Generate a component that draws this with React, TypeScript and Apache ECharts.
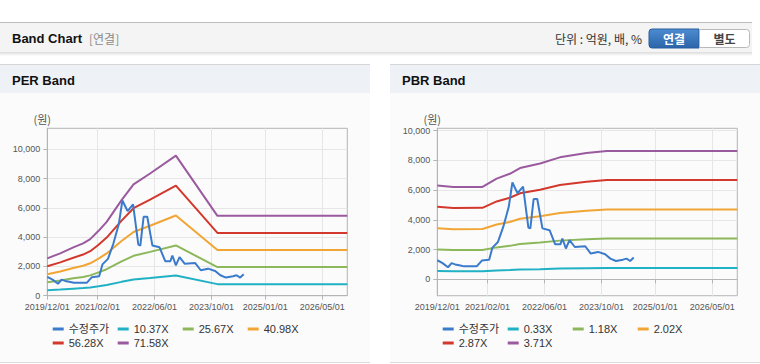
import React, { useEffect, useRef } from 'react';
import * as echarts from 'echarts';

// ---- Axis settings ----
const xStart = '2019-12-01';
const xEnd = '2026-12-01';
const xTickLabels = ['2019-12-01', '2021-02-01', '2022-06-01', '2023-10-01', '2025-01-01', '2026-05-01'];
const yTickValues = [0, 2000, 4000, 6000, 8000, 10000];

// ---- 수정주가 (adjusted price) ----
const priceDates = [
  '2019-12-01', '2020-01-15', '2020-03-01', '2020-04-01', '2020-05-01', '2020-06-15', '2020-07-15',
  '2020-11-01', '2020-12-15', '2021-02-15', '2021-03-15', '2021-05-01', '2021-06-15', '2021-08-01',
  '2021-09-01', '2021-10-15', '2021-12-01', '2022-01-15', '2022-02-01', '2022-03-01', '2022-04-01',
  '2022-05-15', '2022-07-15', '2022-09-01', '2022-10-15', '2022-11-01', '2022-12-01', '2023-01-01',
  '2023-02-15', '2023-05-15', '2023-07-01', '2023-09-01', '2023-11-01', '2023-12-15', '2024-02-01',
  '2024-04-01', '2024-05-01', '2024-06-01', '2024-07-01',
];
const priceValues = [
  1290, 1100, 820, 1100, 1010, 940, 880,
  880, 1270, 1330, 2140, 2520, 3530, 4880,
  6510, 5790, 6240, 3490, 3430, 5400, 5400,
  3430, 3310, 2360, 2360, 2750, 2080, 2640,
  2180, 2230, 1740, 1850, 1690, 1400, 1240,
  1330, 1400, 1240, 1470,
];

// ---- PER band ----
const perMultiples = ['10.37X', '25.67X', '40.98X', '56.28X', '71.58X'];
const perMultipleValues = [10.37, 25.67, 40.98, 56.28, 71.58];
const perEpsDates = [
  '2019-12-01', '2020-03-20', '2020-07-10', '2020-10-01', '2020-12-01', '2021-02-10', '2021-04-20',
  '2021-08-25', '2021-12-05', '2022-04-25', '2022-12-01', '2023-11-20', '2026-12-01',
];
const perEpsValues = [35.7, 40.5, 46.2, 50.0, 54.1, 62.0, 70.6, 91.3, 106.3, 116.8, 133.8, 76.3, 76.3];

// ---- PBR band ----
const pbrMultiples = ['0.33X', '1.18X', '2.02X', '2.87X', '3.71X'];
const pbrMultipleValues = [0.33, 1.18, 2.02, 2.87, 3.71];
const pbrBpsDates = [
  '2019-12-01', '2020-04-15', '2020-12-20', '2021-04-20', '2021-08-10', '2021-11-05', '2022-04-25',
  '2022-10-10', '2023-05-25', '2023-11-15', '2026-12-01',
];
const pbrBpsValues = [1700, 1672, 1675, 1825, 1912, 2016, 2100, 2210, 2288, 2326, 2326];

// ---- Styles ----
const priceName = '수정주가';
const priceColor = '#3b7bcb';
const bandColors = ['#21b1c4', '#8cb85b', '#f1a534', '#d3382d', '#9a5a9e'];

const pad2 = (n: number) => (n < 10 ? '0' + n : '' + n);
const toTs = (s: string) => {
  const [y, m, d] = s.split('-').map(Number);
  return new Date(y, m - 1, d).getTime();
};
const fmtDate = (v: number) => {
  const d = new Date(v);
  return `${d.getFullYear()}/${pad2(d.getMonth() + 1)}/${pad2(d.getDate())}`;
};

const axisFont = "'Liberation Sans', Arial, sans-serif";
const baseFont = "'Liberation Sans', Arial, 'Noto Sans CJK KR', sans-serif";
const krFont = "'Noto Sans CJK KR', 'Liberation Sans', sans-serif";

function makeAxes(gridIndex: number, yMin: number, yMax: number) {
  const xTicks = xTickLabels.map(toTs);
  const xAxis = {
    type: 'value',
    gridIndex,
    min: toTs(xStart),
    max: toTs(xEnd),
    axisLine: { show: true, lineStyle: { color: '#b5b5b5' } },
    axisTick: { show: true, length: 4, customValues: xTicks, lineStyle: { color: '#b5b5b5' } },
    axisLabel: {
      customValues: xTicks,
      formatter: (v: number) => fmtDate(v),
      fontSize: 9,
      fontFamily: axisFont,
      color: '#555',
      margin: 7,
      showMinLabel: true,
      showMaxLabel: true,
    },
    splitLine: { show: true, lineStyle: { color: '#e6e6e6' } },
  };
  const yAxis = {
    type: 'value',
    gridIndex,
    min: yMin,
    max: yMax,
    name: '(원)',
    nameLocation: 'end',
    nameGap: 4,
    nameTextStyle: { fontFamily: krFont, fontSize: 11, color: '#555', align: 'center', padding: [0, 10, 0, 0] },
    axisLine: { show: true, lineStyle: { color: '#b5b5b5' } },
    axisTick: { show: true, length: 4, customValues: yTickValues, lineStyle: { color: '#b5b5b5' } },
    axisLabel: { customValues: yTickValues, fontSize: 9, fontFamily: axisFont, color: '#555', margin: 7 },
    splitLine: { show: true, lineStyle: { color: '#e6e6e6' } },
  };
  return { xAxis, yAxis };
}

function makeSeries(
  axisIndex: number,
  names: string[],
  multiples: number[],
  baseDates: string[],
  baseValues: number[],
) {
  const bands = names.map((name, k) => ({
    name,
    type: 'line',
    xAxisIndex: axisIndex,
    yAxisIndex: axisIndex,
    showSymbol: false,
    symbol: 'none',
    z: 2,
    lineStyle: { width: 2, color: bandColors[k] },
    itemStyle: { color: bandColors[k] },
    data: baseDates.map((d, i) => [toTs(d), Math.round(baseValues[i] * multiples[k])]),
  }));
  const price = {
    name: priceName,
    type: 'line',
    xAxisIndex: axisIndex,
    yAxisIndex: axisIndex,
    showSymbol: false,
    symbol: 'none',
    z: 3,
    lineStyle: { width: 2, color: priceColor },
    itemStyle: { color: priceColor },
    data: priceDates.map((d, i) => [toTs(d), priceValues[i]]),
  };
  return [price, ...bands];
}

function makeLegend(left: number, names: string[]) {
  return {
    left,
    top: 323,
    width: 270,
    padding: 0,
    orient: 'horizontal',
    icon: 'rect',
    itemWidth: 11,
    itemHeight: 3,
    itemGap: 2,
    data: [priceName, ...names],
    textStyle: { fontSize: 11, color: '#333', fontFamily: baseFont, width: 47, lineHeight: 12 },
  };
}

export default function App() {
  const ref = useRef<HTMLDivElement>(null);

  useEffect(() => {
    if (!ref.current) return;
    const chart = echarts.init(ref.current, undefined, { renderer: 'svg' });
    const a0 = makeAxes(0, 0, 11450);
    const a1 = makeAxes(1, -1090, 10150);

    const panel = (x: number, w: number, title: string) => [
      { type: 'rect', z: -10, silent: true, shape: { x, y: 64, width: w, height: 299 }, style: { fill: '#fbfbfb' } },
      { type: 'rect', z: -9, silent: true, shape: { x, y: 64.5, width: w, height: 28.5 }, style: { fill: '#eef2f7' } },
      { type: 'line', z: -8, silent: true, shape: { x1: x, y1: 64.5, x2: x + w, y2: 64.5 }, style: { stroke: '#d6d6d6', lineWidth: 1 } },
      { type: 'line', z: -8, silent: true, shape: { x1: x, y1: 362.5, x2: x + w, y2: 362.5 }, style: { stroke: '#dcdcdc', lineWidth: 1 } },
      {
        type: 'text', z: 5, silent: true, x: x + 12, y: 80,
        style: { text: title, fill: '#111', font: `bold 13px ${baseFont}`, verticalAlign: 'middle', textAlign: 'left' },
      },
    ];

    chart.setOption({
      animation: false,
      textStyle: { fontFamily: baseFont },
      graphic: [
        { type: 'rect', z: -10, silent: true, shape: { x: 0, y: 22, width: 752, height: 30 }, style: { fill: '#f4f4f4' } },
        { type: 'line', z: -9, silent: true, shape: { x1: 0, y1: 22.5, x2: 752, y2: 22.5 }, style: { stroke: '#bdbdbd', lineWidth: 1 } },
        {
          type: 'rect', z: -9, silent: true, shape: { x: 0, y: 52, width: 752, height: 4 },
          style: {
            fill: new echarts.graphic.LinearGradient(0, 0, 0, 1, [
              { offset: 0, color: 'rgba(0,0,0,0.14)' },
              { offset: 1, color: 'rgba(0,0,0,0)' },
            ]),
          },
        },
        { type: 'text', z: 5, silent: true, x: 12, y: 38, style: { text: 'Band Chart', fill: '#111', font: `bold 13px ${baseFont}`, verticalAlign: 'middle' } },
        { type: 'text', z: 5, silent: true, x: 89, y: 38, style: { text: '[연결]', fill: '#8a8a8a', font: `12px ${krFont}`, verticalAlign: 'middle' } },
        { type: 'text', z: 5, silent: true, x: 642, y: 38, style: { text: '단위 : 억원, 배, %', fill: '#333', font: `12px ${krFont}`, verticalAlign: 'middle', textAlign: 'right' } },
        {
          type: 'rect', z: 4, silent: true, shape: { x: 649, y: 29, width: 50, height: 19, r: [3, 0, 0, 3] },
          style: {
            fill: new echarts.graphic.LinearGradient(0, 0, 0, 1, [
              { offset: 0, color: '#4d8bd0' },
              { offset: 1, color: '#2b64a9' },
            ]),
            stroke: '#2a5f9f',
            lineWidth: 1,
          },
        },
        { type: 'text', z: 5, silent: true, x: 674, y: 38.5, style: { text: '연결', fill: '#fff', font: `bold 12px ${krFont}`, verticalAlign: 'middle', textAlign: 'center' } },
        {
          type: 'rect', z: 4, silent: true, shape: { x: 699.5, y: 29.5, width: 50, height: 18, r: [0, 3, 3, 0] },
          style: { fill: '#fff', stroke: '#b8b8b8', lineWidth: 1 },
        },
        { type: 'text', z: 5, silent: true, x: 724.5, y: 38.5, style: { text: '별도', fill: '#444', font: `bold 12px ${krFont}`, verticalAlign: 'middle', textAlign: 'center' } },
        ...panel(0, 370, 'PER Band'),
        ...panel(390, 370, 'PBR Band'),
      ],
      grid: [
        { left: 47.3, top: 128.3, width: 300, height: 167.4, show: true, borderColor: '#b5b5b5', borderWidth: 1, backgroundColor: 'transparent' },
        { left: 437.3, top: 128.3, width: 300, height: 167.4, show: true, borderColor: '#b5b5b5', borderWidth: 1, backgroundColor: 'transparent' },
      ],
      xAxis: [a0.xAxis, a1.xAxis],
      yAxis: [a0.yAxis, a1.yAxis],
      legend: [makeLegend(52.7, perMultiples), makeLegend(442.7, pbrMultiples)],
      series: [
        ...makeSeries(0, perMultiples, perMultipleValues, perEpsDates, perEpsValues),
        ...makeSeries(1, pbrMultiples, pbrMultipleValues, pbrBpsDates, pbrBpsValues),
      ],
    });
    return () => chart.dispose();
  }, []);

  return (
    <div
      ref={ref}
      style={{ position: 'absolute', left: 0, top: 0, width: 760, height: 364, background: '#fff' }}
    />
  );
}
